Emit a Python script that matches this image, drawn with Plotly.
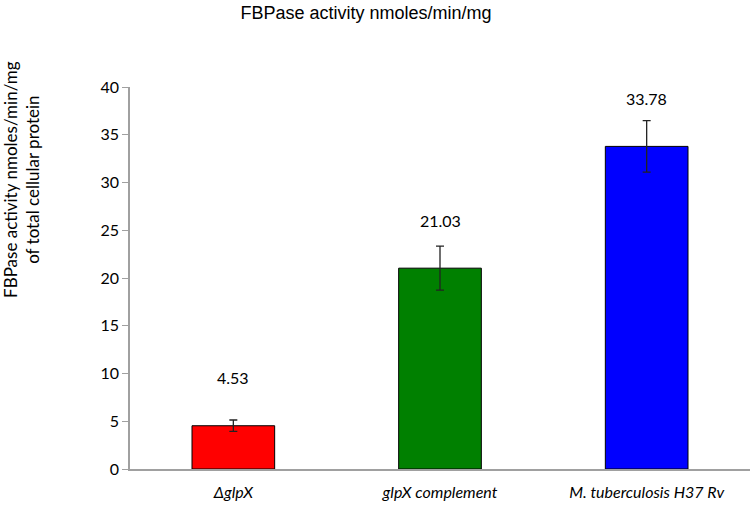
import plotly.graph_objects as go

categories = ["<i>ΔglpX</i>", "<i>glpX complement</i>", "<i>M. tuberculosis H37 Rv</i>"]
activity = [4.53, 21.03, 33.78]
errors = [0.6, 2.3, 2.7]
labels = ["4.53", "21.03", "33.78"]
colors = ["#ff0000", "#008000", "#0000ff"]

fig = go.Figure(go.Bar(
    x=categories,
    y=activity,
    marker=dict(color=colors, line=dict(color="black", width=1)),
    error_y=dict(type="data", array=errors, color="#222222", thickness=1.3, width=4),
    width=0.40,
))

# value labels floating above each bar
for cat, val, lab in zip(categories, activity, labels):
    fig.add_annotation(x=cat, y=val, text=lab, showarrow=False, yshift=48,
                       font=dict(family="Lato", size=16, color="black"))

fig.add_annotation(
    xref="paper", yref="paper", x=-0.174, y=0.757,
    xanchor="center", yanchor="middle",
    text="FBPase activity nmoles/min/mg<br>of total cellular protein",
    textangle=-90, showarrow=False,
    font=dict(family="Lato", size=17, color="black"),
)

fig.update_layout(
    width=753, height=505,
    margin=dict(l=130, r=3, t=87, b=36),
    plot_bgcolor="white", paper_bgcolor="white",
    showlegend=False,
    title=dict(text="FBPase activity nmoles/min/mg", x=0.486, xanchor="center",
               y=0.974, yanchor="middle",
               font=dict(family="Liberation Sans", size=18, color="black")),
    xaxis=dict(showline=True, linecolor="#a0a0a0", linewidth=1.5, ticks="",
               ticklabelstandoff=8,
               tickfont=dict(family="Lato", size=16, color="black")),
    yaxis=dict(range=[0, 40], dtick=5, showgrid=False, zeroline=False,
               showline=True, linecolor="#a0a0a0", linewidth=1.5,
               ticks="outside", ticklen=6, tickcolor="#a0a0a0",
               tickfont=dict(family="Lato", size=16, color="black")),
)

fig.write_html("out.html", config={"displayModeBar": False},
               post_script="document.body.style.margin='0px';")
